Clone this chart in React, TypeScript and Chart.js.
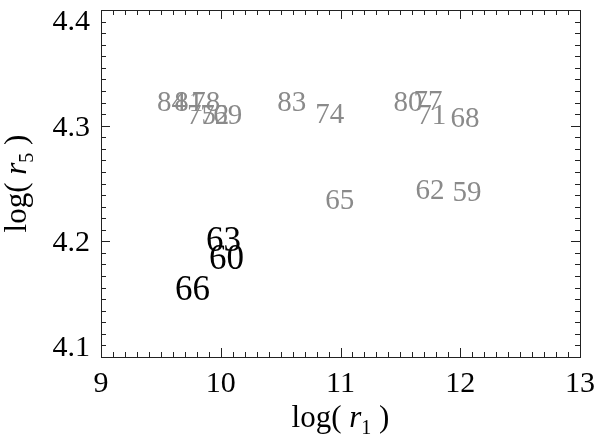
import React, { useEffect, useRef } from "react";
import { Chart, registerables } from "chart.js";
Chart.register(...registerables);

// Gray series (years ≡ 2 mod 3)
const grayLabels = ["59", "62", "65", "68", "71", "74", "77", "80", "83"];
const grayX = [12.056, 11.747, 10.994, 12.039, 11.763, 10.911, 11.73, 11.563, 10.593];
const grayY = [4.243, 4.245, 4.236, 4.307, 4.31, 4.311, 4.322, 4.321, 4.321];
// Gray series (years ≡ 0 mod 3, later)
const gray2Labels = ["69", "72", "75", "78", "81", "84"];
const gray2X = [10.058, 9.949, 9.84, 9.874, 9.732, 9.589];
const gray2Y = [4.3095, 4.3095, 4.3095, 4.321, 4.321, 4.3207];
// Black series
const blackLabels = ["60", "63", "66"];
const blackX = [10.049, 10.024, 9.765];
const blackY = [4.186, 4.202, 4.159];

const xTickValues = [9, 10, 11, 12, 13];
const xTickLabels = ["9", "10", "11", "12", "13"];
const yTickValues = [4.1, 4.2, 4.3, 4.4];
const yTickLabels = ["4.1", "4.2", "4.3", "4.4"];

const FONT = "'Liberation Serif', 'DejaVu Serif', serif";

const labelPlugin = {
  id: "textPoints",
  afterDatasetsDraw(chart: any) {
    const ctx = chart.ctx;
    chart.data.datasets.forEach((ds: any, i: number) => {
      const meta = chart.getDatasetMeta(i);
      ctx.save();
      ctx.font = `${ds.textSize}px ${FONT}`;
      ctx.fillStyle = ds.textColor;
      ctx.textAlign = "center";
      ctx.textBaseline = "alphabetic";
      meta.data.forEach((pt: any, j: number) => {
        ctx.fillText(ds.textLabels[j], pt.x, pt.y + ds.textSize * 0.33);
      });
      ctx.restore();
    });
  },
};

const axesPlugin = {
  id: "idlAxes",
  afterDraw(chart: any) {
    const ctx = chart.ctx;
    const { left, right, top, bottom } = chart.chartArea;
    const xs = chart.scales.x;
    const ys = chart.scales.y;
    ctx.save();
    ctx.strokeStyle = "#222";
    ctx.lineWidth = 1;
    ctx.strokeRect(Math.round(left) + 0.5, Math.round(top) + 0.5, Math.round(right - left), Math.round(bottom - top));
    ctx.beginPath();
    // x ticks every 0.1
    for (let k = 0; k <= 40; k++) {
      const v = 9 + k / 10;
      const px = Math.round(xs.getPixelForValue(v)) + 0.5;
      const len = k % 10 === 0 ? 9 : 5;
      ctx.moveTo(px, bottom);
      ctx.lineTo(px, bottom - len);
      ctx.moveTo(px, top);
      ctx.lineTo(px, top + len);
    }
    // y ticks every 0.01
    for (let k = 0; k <= 30; k++) {
      const v = 4.1 + k / 100;
      const py = Math.round(ys.getPixelForValue(v)) + 0.5;
      const len = k % 10 === 0 ? 9 : 5;
      ctx.moveTo(left, py);
      ctx.lineTo(left + len, py);
      ctx.moveTo(right, py);
      ctx.lineTo(right - len, py);
    }
    ctx.stroke();

    // tick labels
    ctx.fillStyle = "#000";
    ctx.font = `30px ${FONT}`;
    ctx.textBaseline = "alphabetic";
    ctx.textAlign = "center";
    xTickValues.forEach((v, i) => {
      ctx.fillText(xTickLabels[i], xs.getPixelForValue(v), bottom + 35);
    });
    ctx.textAlign = "right";
    const dh = 20;
    yTickValues.forEach((v, i) => {
      const py = ys.getPixelForValue(v);
      let base = py + dh / 2;
      if (base - dh < top) base = top + dh;
      if (base > bottom) base = bottom - 1;
      ctx.fillText(yTickLabels[i], left - 11, base);
    });

    // axis titles
    const drawTitle = (parts: any[]) => {
      let total = 0;
      parts.forEach((p) => {
        ctx.font = p.font;
        p.w = ctx.measureText(p.t).width;
        total += p.w;
      });
      let x = -total / 2;
      ctx.textAlign = "left";
      parts.forEach((p) => {
        ctx.font = p.font;
        ctx.fillText(p.t, x, p.dy);
        x += p.w;
      });
    };
    const titleParts = (sub: string) => [
      { t: "log( ", font: `31px ${FONT}`, dy: 0 },
      { t: "r", font: `italic 31px ${FONT}`, dy: 0 },
      { t: sub, font: `20px ${FONT}`, dy: 7 },
      { t: " )", font: `31px ${FONT}`, dy: 0 },
    ];
    ctx.save();
    ctx.translate((left + right) / 2, 427);
    drawTitle(titleParts("1"));
    ctx.restore();
    ctx.save();
    ctx.translate(26, (top + bottom) / 2);
    ctx.rotate(-Math.PI / 2);
    drawTitle(titleParts("5"));
    ctx.restore();
    ctx.restore();
  },
};

export default function App() {
  const ref = useRef<HTMLCanvasElement | null>(null);
  useEffect(() => {
    document.body.style.margin = "0";
    if (!ref.current) return;
    const mk = (xs: number[], ysv: number[]) => xs.map((x, i) => ({ x, y: ysv[i] }));
    const chart = new Chart(ref.current, {
      type: "scatter",
      data: {
        datasets: [
          { data: mk(grayX, grayY), textLabels: grayLabels, textColor: "#8a8a8a", textSize: 29, pointRadius: 0 } as any,
          { data: mk(gray2X, gray2Y), textLabels: gray2Labels, textColor: "#8a8a8a", textSize: 29, pointRadius: 0 } as any,
          { data: mk(blackX, blackY), textLabels: blackLabels, textColor: "#000", textSize: 35, pointRadius: 0 } as any,
        ],
      },
      options: {
        responsive: false,
        animation: false,
        events: [],
        layout: { padding: { left: 101, right: 20, top: 10, bottom: 81 } },
        plugins: { legend: { display: false }, tooltip: { enabled: false } },
        scales: {
          x: { type: "linear", min: 9, max: 13, display: false },
          y: { type: "linear", min: 4.1, max: 4.4, display: false },
        },
      },
      plugins: [labelPlugin, axesPlugin],
    });
    return () => chart.destroy();
  }, []);
  return (
    <div style={{ width: 600, height: 438, background: "#fff" }}>
      <canvas ref={ref} width={600} height={438} />
    </div>
  );
}
